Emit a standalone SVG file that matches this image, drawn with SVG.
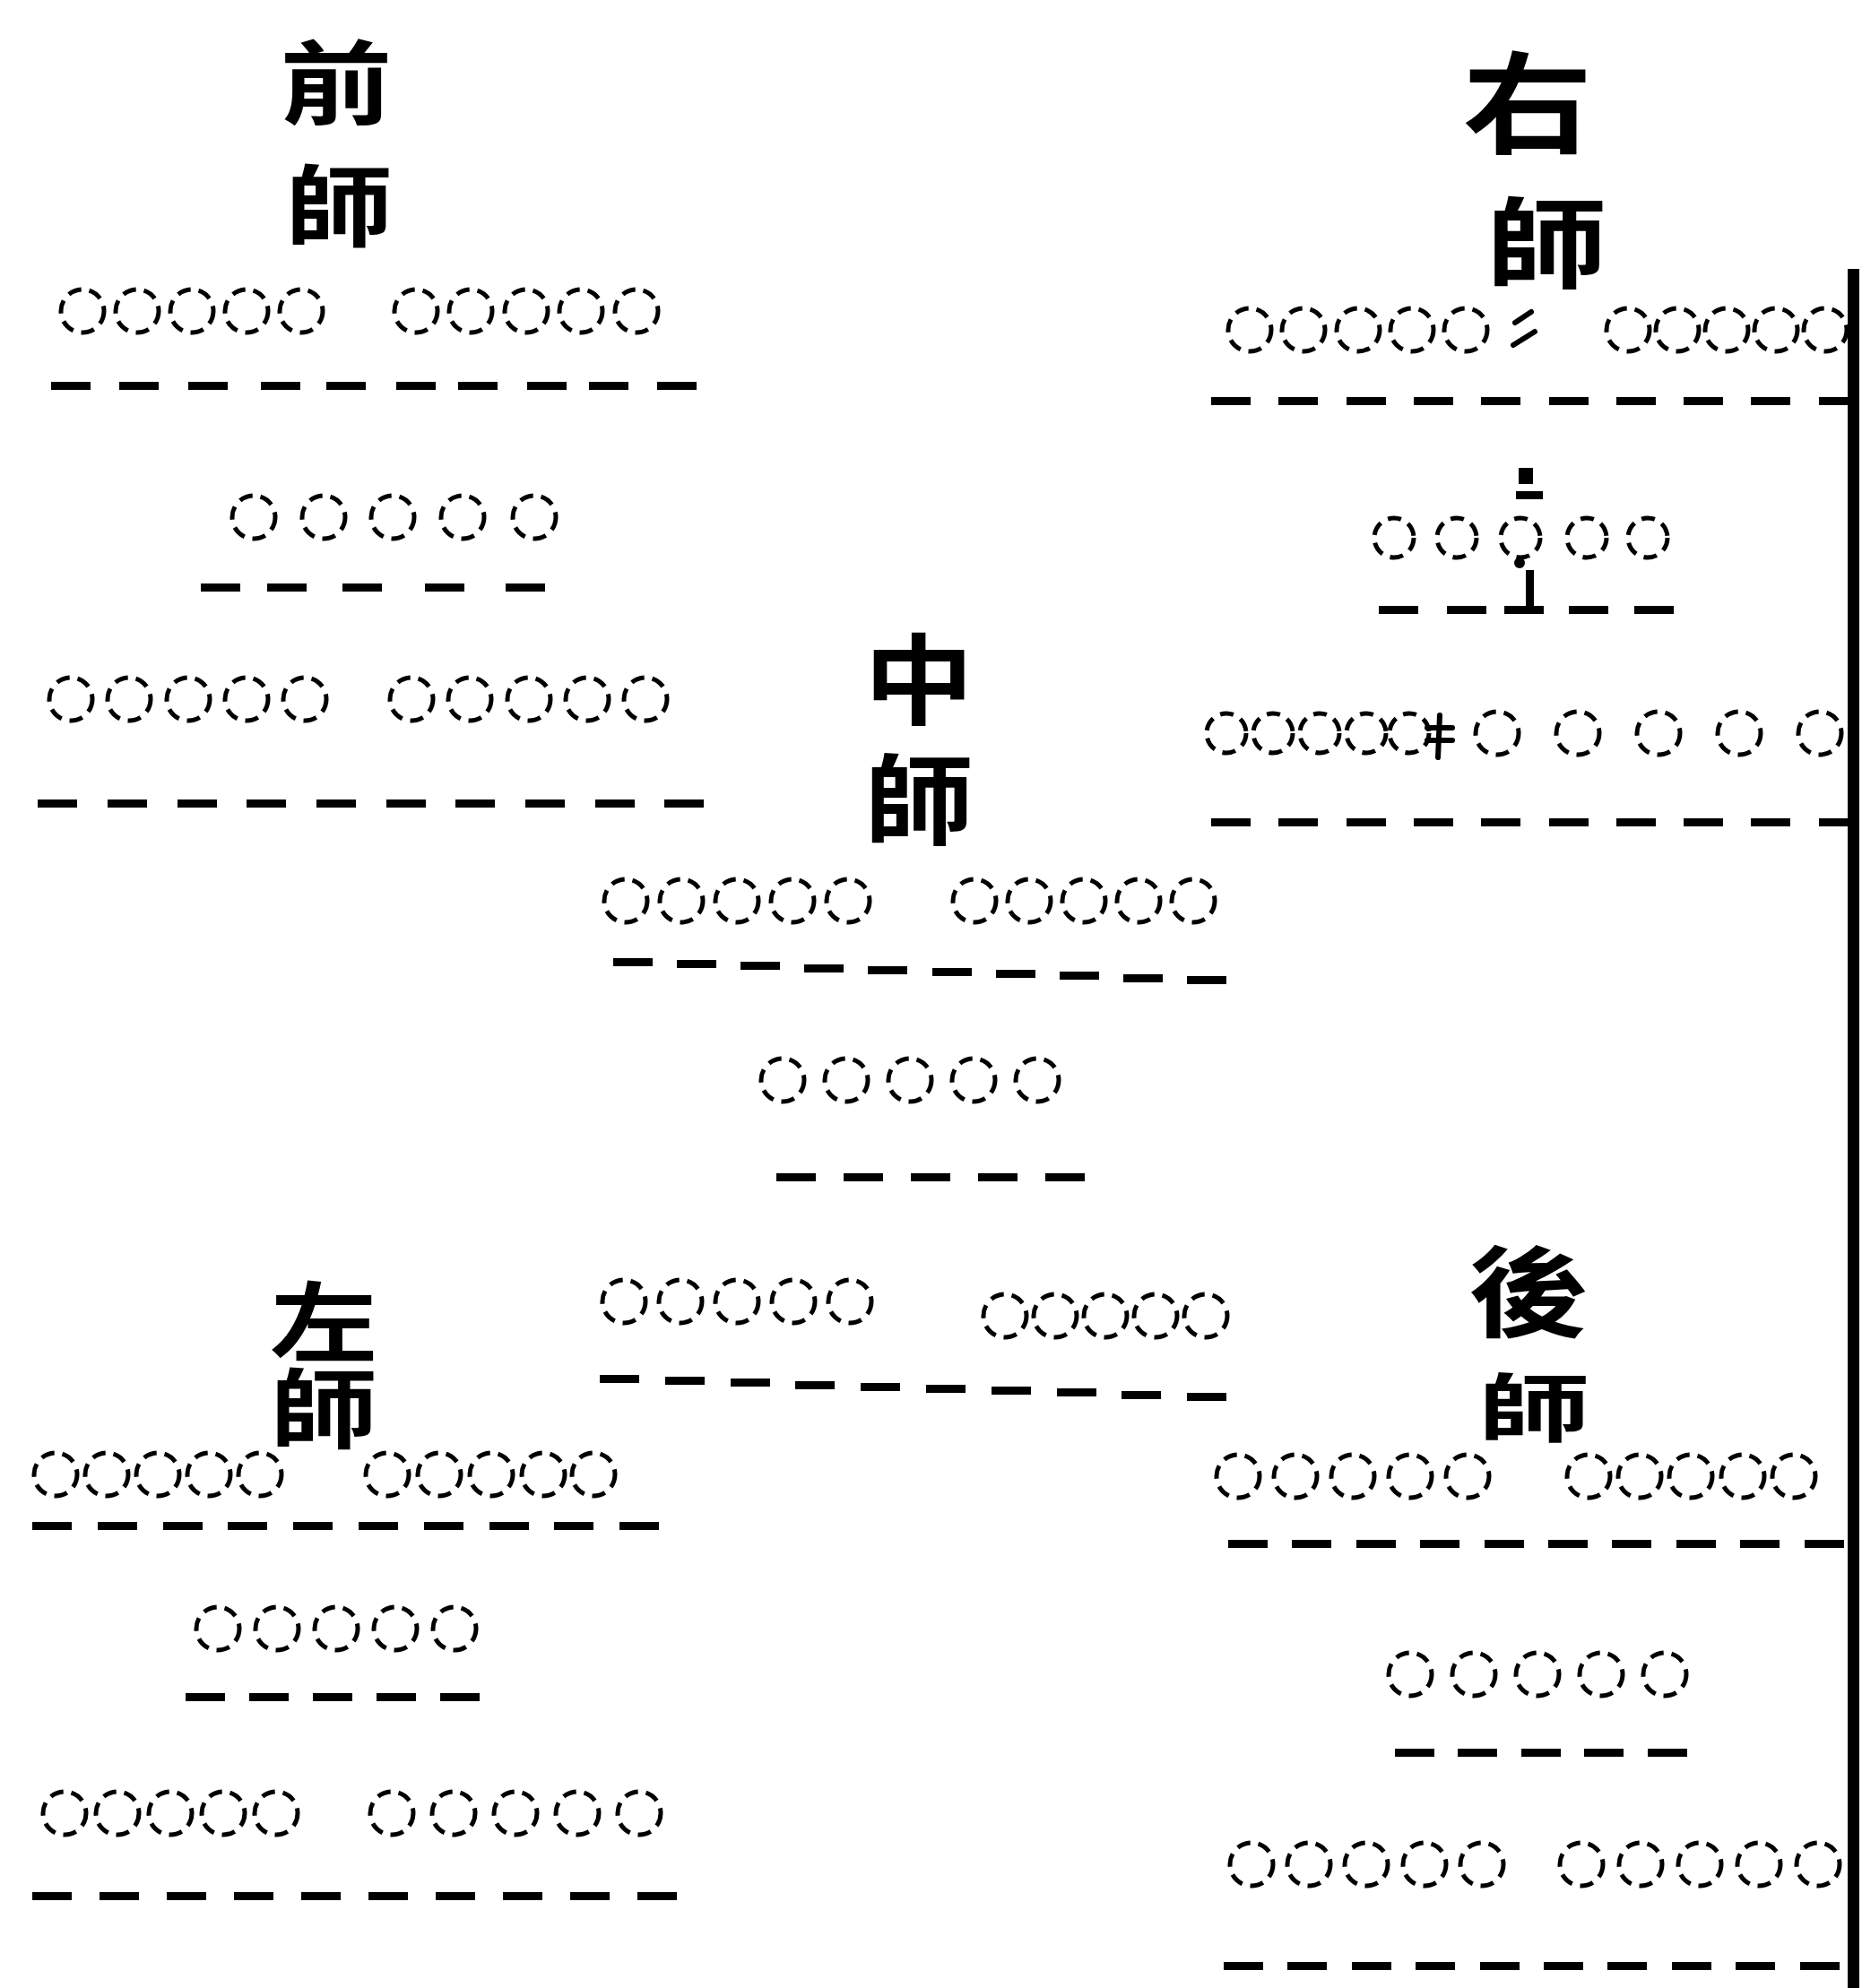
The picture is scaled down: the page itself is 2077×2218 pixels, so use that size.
<svg xmlns="http://www.w3.org/2000/svg" width="2077" height="2218" viewBox="0 0 2077 2218">
<style>
.bg{fill:#ffffff}
.t{font-family:"Noto Sans CJK TC","Noto Sans CJK SC","Noto Sans CJK JP",sans-serif;font-weight:700;fill:#000;text-anchor:middle;dominant-baseline:central}
.v{font-family:"Noto Sans CJK TC","Noto Sans CJK SC","Noto Sans CJK JP",sans-serif;font-weight:700;fill:#000;text-anchor:middle;writing-mode:vertical-rl;text-orientation:upright}
.c{fill:none;stroke:#000;stroke-width:5;stroke-dasharray:15 9}
.d{fill:#000}
.m{fill:none;stroke:#000;stroke-width:6;stroke-linecap:round}
</style>
<rect class="bg" x="0" y="0" width="2077" height="2218"/>

<g id="qian-shi">
<text class="t" transform="translate(375,86) scale(1,0.82)" font-size="125">前</text>
<text class="t" transform="translate(378,224) scale(1,0.82)" font-size="120">師</text>
<g>
<circle class="c" cx="92" cy="347" r="24"/><circle class="c" cx="153" cy="347" r="24"/><circle class="c" cx="214" cy="347" r="24"/><circle class="c" cx="275" cy="347" r="24"/><circle class="c" cx="336" cy="347" r="24"/>
<circle class="c" cx="464" cy="347" r="24"/><circle class="c" cx="525" cy="347" r="24"/><circle class="c" cx="587" cy="347" r="24"/><circle class="c" cx="648" cy="347" r="24"/><circle class="c" cx="710" cy="347" r="24"/>
</g>
<g>
<rect class="d" x="57" y="426" width="44" height="9"/><rect class="d" x="133" y="426" width="44" height="9"/><rect class="d" x="210" y="426" width="44" height="9"/><rect class="d" x="291" y="426" width="44" height="9"/><rect class="d" x="364" y="426" width="44" height="9"/><rect class="d" x="442" y="426" width="44" height="9"/><rect class="d" x="511" y="426" width="44" height="9"/><rect class="d" x="588" y="426" width="44" height="9"/><rect class="d" x="657" y="426" width="44" height="9"/><rect class="d" x="733" y="426" width="44" height="9"/>
</g>
<g>
<circle class="c" cx="283" cy="577" r="24"/><circle class="c" cx="361" cy="577" r="24"/><circle class="c" cx="438" cy="577" r="24"/><circle class="c" cx="516" cy="577" r="24"/><circle class="c" cx="596" cy="577" r="24"/>
</g>
<g>
<rect class="d" x="224" y="651" width="44" height="9"/><rect class="d" x="298" y="651" width="44" height="9"/><rect class="d" x="382" y="651" width="44" height="9"/><rect class="d" x="474" y="651" width="44" height="9"/><rect class="d" x="564" y="651" width="44" height="9"/>
</g>
<g>
<circle class="c" cx="79" cy="780" r="24"/><circle class="c" cx="144" cy="780" r="24"/><circle class="c" cx="210" cy="780" r="24"/><circle class="c" cx="275" cy="780" r="24"/><circle class="c" cx="340" cy="780" r="24"/>
<circle class="c" cx="459" cy="780" r="24"/><circle class="c" cx="524" cy="780" r="24"/><circle class="c" cx="590" cy="780" r="24"/><circle class="c" cx="655" cy="780" r="24"/><circle class="c" cx="720" cy="780" r="24"/>
</g>
<g>
<rect class="d" x="42" y="892" width="44" height="9"/><rect class="d" x="120" y="892" width="44" height="9"/><rect class="d" x="198" y="892" width="44" height="9"/><rect class="d" x="275" y="892" width="44" height="9"/><rect class="d" x="353" y="892" width="44" height="9"/><rect class="d" x="431" y="892" width="44" height="9"/><rect class="d" x="508" y="892" width="44" height="9"/><rect class="d" x="586" y="892" width="44" height="9"/><rect class="d" x="664" y="892" width="44" height="9"/><rect class="d" x="741" y="892" width="44" height="9"/>
</g>
</g>

<g id="you-shi">
<text class="t" transform="translate(1704,107) scale(1,0.85)" font-size="145">右</text>
<text class="t" transform="translate(1725,265) scale(1,0.82)" font-size="135">師</text>
<g>
<circle class="c" cx="1394" cy="368" r="24"/><circle class="c" cx="1454" cy="368" r="24"/><circle class="c" cx="1515" cy="368" r="24"/><circle class="c" cx="1575" cy="368" r="24"/><circle class="c" cx="1635" cy="368" r="24"/>
<circle class="c" cx="1816" cy="368" r="24"/><circle class="c" cx="1871" cy="368" r="24"/><circle class="c" cx="1926" cy="368" r="24"/><circle class="c" cx="1981" cy="368" r="24"/><circle class="c" cx="2036" cy="368" r="24"/>
<path class="m" d="M1690 360 L1708 348 M1688 385 L1712 370"/>
</g>
<g>
<rect class="d" x="1351" y="443" width="44" height="9"/><rect class="d" x="1426" y="443" width="44" height="9"/><rect class="d" x="1502" y="443" width="44" height="9"/><rect class="d" x="1577" y="443" width="44" height="9"/><rect class="d" x="1652" y="443" width="44" height="9"/><rect class="d" x="1728" y="443" width="44" height="9"/><rect class="d" x="1803" y="443" width="44" height="9"/><rect class="d" x="1878" y="443" width="44" height="9"/><rect class="d" x="1953" y="443" width="44" height="9"/><rect class="d" x="2029" y="443" width="44" height="9"/>
</g>
<g>
<rect class="d" x="1694" y="522" width="16" height="18"/>
<rect class="d" x="1691" y="548" width="30" height="9"/>
<circle class="d" cx="1695" cy="628" r="6"/>
<rect class="d" x="1702" y="636" width="9" height="46"/>
</g>
<g>
<circle class="c" cx="1555" cy="600" r="22"/><circle class="c" cx="1625" cy="600" r="22"/><circle class="c" cx="1696" cy="600" r="22"/><circle class="c" cx="1770" cy="600" r="22"/><circle class="c" cx="1838" cy="600" r="22"/>
</g>
<g>
<rect class="d" x="1538" y="676" width="44" height="9"/><rect class="d" x="1614" y="676" width="44" height="9"/><rect class="d" x="1678" y="676" width="44" height="9"/><rect class="d" x="1750" y="676" width="44" height="9"/><rect class="d" x="1823" y="676" width="44" height="9"/>
</g>
<g>
<circle class="c" cx="1368" cy="818" r="22"/><circle class="c" cx="1420" cy="818" r="22"/><circle class="c" cx="1472" cy="818" r="22"/><circle class="c" cx="1524" cy="818" r="22"/><circle class="c" cx="1572" cy="818" r="22"/>
<path class="m" d="M1606 798 L1604 845 M1592 812 L1620 812 M1592 826 L1620 826"/>
<circle class="c" cx="1670" cy="818" r="24"/><circle class="c" cx="1760" cy="818" r="24"/><circle class="c" cx="1850" cy="818" r="24"/><circle class="c" cx="1940" cy="818" r="24"/><circle class="c" cx="2030" cy="818" r="24"/>
</g>
<g>
<rect class="d" x="1351" y="913" width="44" height="9"/><rect class="d" x="1426" y="913" width="44" height="9"/><rect class="d" x="1502" y="913" width="44" height="9"/><rect class="d" x="1577" y="913" width="44" height="9"/><rect class="d" x="1652" y="913" width="44" height="9"/><rect class="d" x="1728" y="913" width="44" height="9"/><rect class="d" x="1803" y="913" width="44" height="9"/><rect class="d" x="1878" y="913" width="44" height="9"/><rect class="d" x="1953" y="913" width="44" height="9"/><rect class="d" x="2029" y="913" width="44" height="9"/>
</g>
</g>

<g id="zhong-shi">
<text class="v" transform="scale(1,0.9)" x="1025" y="930" font-size="122" letter-spacing="27">中師</text>
<g>
<circle class="c" cx="698" cy="1005" r="24"/><circle class="c" cx="760" cy="1005" r="24"/><circle class="c" cx="822" cy="1005" r="24"/><circle class="c" cx="884" cy="1005" r="24"/><circle class="c" cx="946" cy="1005" r="24"/>
<circle class="c" cx="1087" cy="1005" r="24"/><circle class="c" cx="1148" cy="1005" r="24"/><circle class="c" cx="1209" cy="1005" r="24"/><circle class="c" cx="1270" cy="1005" r="24"/><circle class="c" cx="1331" cy="1005" r="24"/>
</g>
<g>
<rect class="d" x="684" y="1069" width="44" height="9"/><rect class="d" x="755" y="1071" width="44" height="9"/><rect class="d" x="826" y="1073" width="44" height="9"/><rect class="d" x="897" y="1076" width="44" height="9"/><rect class="d" x="968" y="1078" width="44" height="9"/><rect class="d" x="1040" y="1080" width="44" height="9"/><rect class="d" x="1111" y="1082" width="44" height="9"/><rect class="d" x="1182" y="1084" width="44" height="9"/><rect class="d" x="1253" y="1087" width="44" height="9"/><rect class="d" x="1324" y="1089" width="44" height="9"/>
</g>
<g>
<circle class="c" cx="873" cy="1205" r="24"/><circle class="c" cx="944" cy="1205" r="24"/><circle class="c" cx="1015" cy="1205" r="24"/><circle class="c" cx="1086" cy="1205" r="24"/><circle class="c" cx="1157" cy="1205" r="24"/>
</g>
<g>
<rect class="d" x="866" y="1309" width="44" height="9"/><rect class="d" x="941" y="1309" width="44" height="9"/><rect class="d" x="1016" y="1309" width="44" height="9"/><rect class="d" x="1091" y="1309" width="44" height="9"/><rect class="d" x="1166" y="1309" width="44" height="9"/>
</g>
<g>
<circle class="c" cx="696" cy="1452" r="24"/><circle class="c" cx="759" cy="1452" r="24"/><circle class="c" cx="822" cy="1452" r="24"/><circle class="c" cx="885" cy="1452" r="24"/><circle class="c" cx="948" cy="1452" r="24"/>
<circle class="c" cx="1121" cy="1468" r="24"/><circle class="c" cx="1177" cy="1468" r="24"/><circle class="c" cx="1233" cy="1468" r="24"/><circle class="c" cx="1289" cy="1468" r="24"/><circle class="c" cx="1345" cy="1468" r="24"/>
</g>
<g>
<rect class="d" x="669" y="1534" width="44" height="9"/><rect class="d" x="742" y="1536" width="44" height="9"/><rect class="d" x="815" y="1538" width="44" height="9"/><rect class="d" x="887" y="1541" width="44" height="9"/><rect class="d" x="960" y="1543" width="44" height="9"/><rect class="d" x="1033" y="1545" width="44" height="9"/><rect class="d" x="1106" y="1547" width="44" height="9"/><rect class="d" x="1179" y="1549" width="44" height="9"/><rect class="d" x="1251" y="1552" width="44" height="9"/><rect class="d" x="1324" y="1554" width="44" height="9"/>
</g>
</g>

<g id="zuo-shi">
<text class="v" transform="scale(1,0.8)" x="361" y="1904" font-size="120" letter-spacing="1">左師</text>
<g>
<circle class="c" cx="62" cy="1645" r="24"/><circle class="c" cx="119" cy="1645" r="24"/><circle class="c" cx="176" cy="1645" r="24"/><circle class="c" cx="233" cy="1645" r="24"/><circle class="c" cx="290" cy="1645" r="24"/>
<circle class="c" cx="432" cy="1645" r="24"/><circle class="c" cx="490" cy="1645" r="24"/><circle class="c" cx="548" cy="1645" r="24"/><circle class="c" cx="606" cy="1645" r="24"/><circle class="c" cx="662" cy="1645" r="24"/>
</g>
<g>
<rect class="d" x="36" y="1698" width="44" height="9"/><rect class="d" x="109" y="1698" width="44" height="9"/><rect class="d" x="182" y="1698" width="44" height="9"/><rect class="d" x="254" y="1698" width="44" height="9"/><rect class="d" x="327" y="1698" width="44" height="9"/><rect class="d" x="400" y="1698" width="44" height="9"/><rect class="d" x="473" y="1698" width="44" height="9"/><rect class="d" x="546" y="1698" width="44" height="9"/><rect class="d" x="618" y="1698" width="44" height="9"/><rect class="d" x="691" y="1698" width="44" height="9"/>
</g>
<g>
<circle class="c" cx="243" cy="1817" r="24"/><circle class="c" cx="309" cy="1817" r="24"/><circle class="c" cx="375" cy="1817" r="24"/><circle class="c" cx="441" cy="1817" r="24"/><circle class="c" cx="507" cy="1817" r="24"/>
</g>
<g>
<rect class="d" x="207" y="1889" width="44" height="9"/><rect class="d" x="278" y="1889" width="44" height="9"/><rect class="d" x="349" y="1889" width="44" height="9"/><rect class="d" x="420" y="1889" width="44" height="9"/><rect class="d" x="491" y="1889" width="44" height="9"/>
</g>
<g>
<circle class="c" cx="72" cy="2023" r="24"/><circle class="c" cx="131" cy="2023" r="24"/><circle class="c" cx="190" cy="2023" r="24"/><circle class="c" cx="249" cy="2023" r="24"/><circle class="c" cx="308" cy="2023" r="24"/>
<circle class="c" cx="437" cy="2023" r="24"/><circle class="c" cx="506" cy="2023" r="24"/><circle class="c" cx="575" cy="2023" r="24"/><circle class="c" cx="644" cy="2023" r="24"/><circle class="c" cx="713" cy="2023" r="24"/>
</g>
<g>
<rect class="d" x="36" y="2111" width="44" height="9"/><rect class="d" x="111" y="2111" width="44" height="9"/><rect class="d" x="186" y="2111" width="44" height="9"/><rect class="d" x="261" y="2111" width="44" height="9"/><rect class="d" x="336" y="2111" width="44" height="9"/><rect class="d" x="411" y="2111" width="44" height="9"/><rect class="d" x="486" y="2111" width="44" height="9"/><rect class="d" x="561" y="2111" width="44" height="9"/><rect class="d" x="636" y="2111" width="44" height="9"/><rect class="d" x="711" y="2111" width="44" height="9"/>
</g>
</g>

<g id="hou-shi">
<text class="t" transform="translate(1705,1435) scale(1,0.82)" font-size="135">後</text>
<text class="t" transform="translate(1711,1566) scale(1,0.66)" font-size="125">師</text>
<g>
<circle class="c" cx="1381" cy="1647" r="24"/><circle class="c" cx="1445" cy="1647" r="24"/><circle class="c" cx="1509" cy="1647" r="24"/><circle class="c" cx="1573" cy="1647" r="24"/><circle class="c" cx="1637" cy="1647" r="24"/>
<circle class="c" cx="1772" cy="1647" r="24"/><circle class="c" cx="1829" cy="1647" r="24"/><circle class="c" cx="1886" cy="1647" r="24"/><circle class="c" cx="1944" cy="1647" r="24"/><circle class="c" cx="2001" cy="1647" r="24"/>
</g>
<g>
<rect class="d" x="1370" y="1718" width="44" height="9"/><rect class="d" x="1441" y="1718" width="44" height="9"/><rect class="d" x="1513" y="1718" width="44" height="9"/><rect class="d" x="1584" y="1718" width="44" height="9"/><rect class="d" x="1656" y="1718" width="44" height="9"/><rect class="d" x="1727" y="1718" width="44" height="9"/><rect class="d" x="1798" y="1718" width="44" height="9"/><rect class="d" x="1870" y="1718" width="44" height="9"/><rect class="d" x="1941" y="1718" width="44" height="9"/><rect class="d" x="2013" y="1718" width="44" height="9"/>
</g>
<g>
<circle class="c" cx="1573" cy="1868" r="24"/><circle class="c" cx="1644" cy="1868" r="24"/><circle class="c" cx="1715" cy="1868" r="24"/><circle class="c" cx="1786" cy="1868" r="24"/><circle class="c" cx="1857" cy="1868" r="24"/>
</g>
<g>
<rect class="d" x="1556" y="1951" width="44" height="9"/><rect class="d" x="1626" y="1951" width="44" height="9"/><rect class="d" x="1697" y="1951" width="44" height="9"/><rect class="d" x="1767" y="1951" width="44" height="9"/><rect class="d" x="1838" y="1951" width="44" height="9"/>
</g>
<g>
<circle class="c" cx="1396" cy="2080" r="24"/><circle class="c" cx="1460" cy="2080" r="24"/><circle class="c" cx="1524" cy="2080" r="24"/><circle class="c" cx="1589" cy="2080" r="24"/><circle class="c" cx="1653" cy="2080" r="24"/>
<circle class="c" cx="1764" cy="2080" r="24"/><circle class="c" cx="1830" cy="2080" r="24"/><circle class="c" cx="1896" cy="2080" r="24"/><circle class="c" cx="1962" cy="2080" r="24"/><circle class="c" cx="2028" cy="2080" r="24"/>
</g>
<g>
<rect class="d" x="1365" y="2189" width="44" height="9"/><rect class="d" x="1436" y="2189" width="44" height="9"/><rect class="d" x="1508" y="2189" width="44" height="9"/><rect class="d" x="1579" y="2189" width="44" height="9"/><rect class="d" x="1651" y="2189" width="44" height="9"/><rect class="d" x="1722" y="2189" width="44" height="9"/><rect class="d" x="1793" y="2189" width="44" height="9"/><rect class="d" x="1865" y="2189" width="44" height="9"/><rect class="d" x="1936" y="2189" width="44" height="9"/><rect class="d" x="2008" y="2189" width="44" height="9"/>
</g>
</g>

<g id="border">
<rect class="d" x="2061" y="300" width="13" height="1918"/>
</g>
</svg>
